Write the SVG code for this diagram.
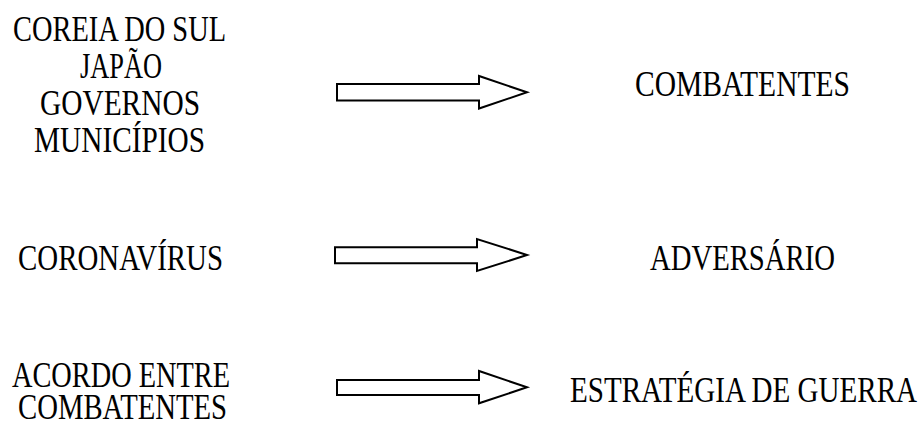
<svg xmlns="http://www.w3.org/2000/svg" width="921" height="421" viewBox="0 0 921 421">
<style>
text{font-family:"Liberation Serif","DejaVu Serif",serif;font-size:35px;fill:#000}
.arrow{fill:#fff;stroke:#000;stroke-width:2;stroke-linejoin:miter}
</style>
<rect width="921" height="421" fill="#fff"/>
<g id="connectors">
<path class="arrow" d="M337,84 H479 V76 L527,92.3 L479,108.5 V100.5 H337 Z"/>
<path class="arrow" d="M335,247.3 H477 V239 L527,255 L477,271 V263.3 H335 Z"/>
<path class="arrow" d="M337,380 H479 V371 L527,387.3 L479,403.3 V395 H337 Z"/>
</g>
<g id="node-paises">
<text x="13" y="41" textLength="213" lengthAdjust="spacingAndGlyphs">COREIA DO SUL</text>
<text x="80" y="78" textLength="82" lengthAdjust="spacingAndGlyphs">JAPÃO</text>
<text x="40" y="115" textLength="160" lengthAdjust="spacingAndGlyphs">GOVERNOS</text>
<text x="34" y="152" textLength="171" lengthAdjust="spacingAndGlyphs">MUNICÍPIOS</text>
</g>
<g id="node-combatentes">
<text x="635" y="96" textLength="215" lengthAdjust="spacingAndGlyphs">COMBATENTES</text>
</g>
<g id="node-coronavirus">
<text x="18" y="270" textLength="205" lengthAdjust="spacingAndGlyphs">CORONAVÍRUS</text>
</g>
<g id="node-adversario">
<text x="650" y="270" textLength="185" lengthAdjust="spacingAndGlyphs">ADVERSÁRIO</text>
</g>
<g id="node-acordo">
<text x="12" y="387" textLength="218" lengthAdjust="spacingAndGlyphs">ACORDO ENTRE</text>
<text x="18" y="419" textLength="209" lengthAdjust="spacingAndGlyphs">COMBATENTES</text>
</g>
<g id="node-estrategia">
<text x="570" y="402" textLength="347" lengthAdjust="spacingAndGlyphs">ESTRATÉGIA DE GUERRA</text>
</g>
</svg>
